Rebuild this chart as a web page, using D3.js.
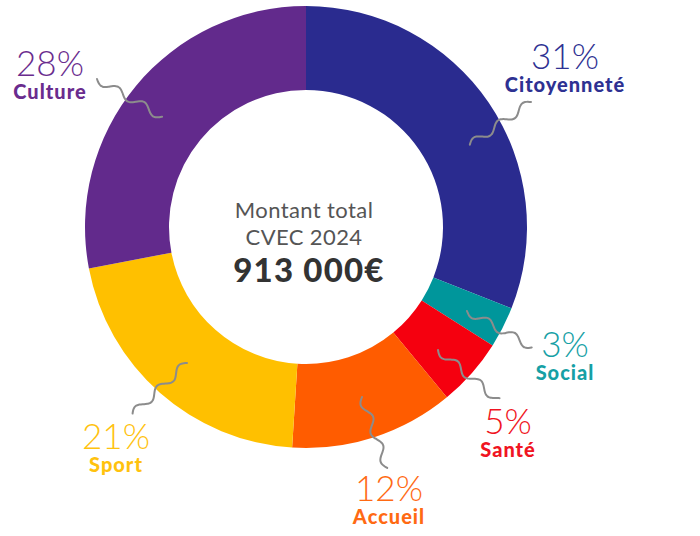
<!DOCTYPE html>
<html>
<head>
<meta charset="utf-8">
<script src="https://cdn.jsdelivr.net/npm/d3@7"></script>
<style>
  html, body { margin: 0; padding: 0; background: #fff; }
  svg { display: block; }
</style>
</head>
<body>
<svg id="chart" width="700" height="536"></svg>
<script>
// ---- data ----
const categories = ["Citoyenneté", "Social", "Santé", "Accueil", "Sport", "Culture"];
const values = [31, 3, 5, 12, 21, 28];
const percentLabels = ["31%", "3%", "5%", "12%", "21%", "28%"];
const sliceColors = ["#2a2b8f", "#00969b", "#f5000f", "#ff5c00", "#ffc000", "#622a8c"];
const textColors = ["#2e3192", "#16a0a5", "#f01422", "#ff6a13", "#ffc20e", "#6a2c8e"];
const centerLines = ["Montant total", "CVEC 2024"];
const totalLabel = "913 000€";

// ---- layout (not data) ----
const W = 700, H = 536;
const cx = 306, cy = 227, outerR = 221, innerR = 137;
// label anchor (center x, baseline of percent line)
const labelPos = [[565, 69], [565, 357], [508, 434], [389, 501], [116, 449], [50, 76]];
// squiggle endpoints [x1,y1,x2,y2]
const squiggles = [
  [531, 102, 470, 145],
  [467, 311, 532, 347],
  [438, 350, 498, 400],
  [362, 397, 387, 468],
  [187, 363, 133, 414],
  [97, 79, 162, 117]
];

const svg = d3.select("#chart");

const pie = d3.pie().sort(null).value(d => d.v);
const arc = d3.arc().innerRadius(innerR).outerRadius(outerR);
const rows = categories.map((c, i) => ({ c, v: values[i], i }));

const g = svg.append("g").attr("transform", `translate(${cx},${cy})`);
g.selectAll("path.slice")
  .data(pie(rows))
  .join("path")
  .attr("class", "slice")
  .attr("d", arc)
  .attr("fill", d => sliceColors[d.data.i]);

// wavy connectors
function squigglePath(x1, y1, x2, y2) {
  const dx = x2 - x1, dy = y2 - y1;
  const len = Math.hypot(dx, dy);
  const nx = -dy / len, ny = dx / len;
  const cycles = Math.max(1.5, len / 30);
  const amp = 4;
  const pts = d3.range(0, 61).map(k => {
    const t = k / 60;
    const o = amp * Math.sin(2 * Math.PI * cycles * t);
    return [x1 + dx * t + nx * o, y1 + dy * t + ny * o];
  });
  return d3.line().curve(d3.curveBasis)(pts);
}
svg.selectAll("path.sq")
  .data(squiggles)
  .join("path")
  .attr("class", "sq")
  .attr("d", s => squigglePath(...s))
  .attr("fill", "none")
  .attr("stroke", "#8c8c8c")
  .attr("stroke-width", 2)
  .attr("stroke-linecap", "round");

// labels
const lab = svg.selectAll("g.lab")
  .data(rows)
  .join("g")
  .attr("class", "lab")
  .attr("transform", d => `translate(${labelPos[d.i][0]},${labelPos[d.i][1]})`);
lab.append("text")
  .attr("text-anchor", "middle")
  .attr("font-family", "Lato, 'Open Sans', sans-serif")
  .attr("font-weight", 300)
  .attr("font-size", 35)
  .attr("fill", d => textColors[d.i])
  .text(d => percentLabels[d.i]);
lab.append("text")
  .attr("text-anchor", "middle")
  .attr("y", 23)
  .attr("font-family", "Lato, 'Open Sans', sans-serif")
  .attr("font-weight", 900)
  .attr("font-size", 20)
  .attr("letter-spacing", 1)
  .attr("fill", d => textColors[d.i])
  .text(d => d.c);

// center text
svg.selectAll("text.ctr")
  .data(centerLines)
  .join("text")
  .attr("class", "ctr")
  .attr("x", 304)
  .attr("y", (d, i) => 218 + i * 27)
  .attr("text-anchor", "middle")
  .attr("font-family", "Lato, 'Open Sans', sans-serif")
  .attr("font-weight", 400)
  .attr("font-size", 22)
  .attr("letter-spacing", 0.4)
  .attr("fill", "#555")
  .text(d => d);
svg.append("text")
  .attr("x", 309)
  .attr("y", 282)
  .attr("text-anchor", "middle")
  .attr("font-family", "Lato, 'Open Sans', sans-serif")
  .attr("font-weight", 900)
  .attr("font-size", 33)
  .attr("letter-spacing", 1.2)
  .attr("fill", "#333")
  .text(totalLabel);
</script>
</body>
</html>
